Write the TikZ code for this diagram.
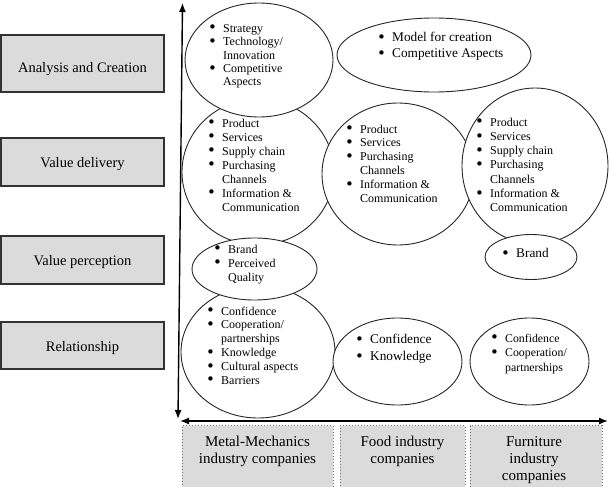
\documentclass[tikz,border=0pt]{standalone}
\usepackage{fontspec}
\setmainfont{Liberation Serif}
\newfontfamily\bulfont{DejaVu Sans}
\usetikzlibrary{shapes.geometric,arrows.meta}
\newcommand{\bi}{\makebox[15pt][l]{\raisebox{-0.9pt}{\bulfont\fontsize{15}{15}\selectfont •}}}
\newcommand{\ind}{\hspace*{15pt}}
\definecolor{boxgray}{RGB}{219,219,219}
\definecolor{boxline}{RGB}{50,50,50}
\definecolor{dotline}{RGB}{110,110,110}
\begin{document}
\begin{tikzpicture}[x=1pt,y=-1pt,
  oval/.style={ellipse, draw=black!85, line width=0.9pt, fill=white, inner sep=0pt},
  smalllist/.style={anchor=base west, inner sep=0pt, align=left},
  levelbox/.style={draw=boxline, line width=1.2pt, fill=boxgray, minimum width=163pt, inner sep=0pt},
  levellabel/.style={anchor=base, inner sep=0pt, font=\fontsize{14.5}{17}\selectfont},
  companybox/.style={draw=dotline, dotted, line width=1pt, fill=boxgray, anchor=north, minimum height=66pt, inner sep=0pt},
  companylabel/.style={anchor=base, inner sep=0pt, align=center, font=\fontsize{15}{17}\selectfont},
  axis/.style={line width=1.4pt, {Latex[length=9pt,width=7pt]}-{Latex[length=9pt,width=7pt]}}
]
\useasboundingbox (0,0) rectangle (611,487);

% level boxes
\node[levelbox, minimum height=57pt] (lac) at (82.5,63.5) {};
\node[levelbox, minimum height=48pt] (lvd) at (82.5,162) {};
\node[levelbox, minimum height=48pt] (lvp) at (82.5,260) {};
\node[levelbox, minimum height=47pt] (lrl) at (82.5,345.5) {};
\node[levellabel] (tac) at (82.5,73) {Analysis and Creation};
\node[levellabel] (tvd) at (82.5,167.5) {Value delivery};
\node[levellabel] (tvp) at (82.5,265.5) {Value perception};
\node[levellabel] (trl) at (82.5,351) {Relationship};

% ellipses
\node[oval, minimum width=152pt, minimum height=146pt] (e3) at (258,172) {};
\node[oval, minimum width=152pt, minimum height=142pt] (e4) at (398,174) {};
\node[oval, minimum width=146pt, minimum height=156pt] (e5) at (535,166) {};
\node[oval, minimum width=148pt, minimum height=114pt] (e1) at (259,60) {};
\node[oval, minimum width=194pt, minimum height=74pt] (e2) at (434,55) {};
\node[oval, minimum width=154pt, minimum height=132pt] (e8) at (258,352) {};
\node[oval, minimum width=125pt, minimum height=62pt] (e7) at (254.5,269) {};
\node[oval, minimum width=92pt, minimum height=45pt] (e6) at (531,257) {};
\node[oval, minimum width=129pt, minimum height=87pt] (e9) at (397.5,361.5) {};
\node[oval, minimum width=119pt, minimum height=87pt] (e10) at (529.5,361.5) {};

% lists (anchored at the baseline of their last line)
\node[smalllist, font=\fontsize{12}{13.5}\selectfont] (t1) at (208,86)
  {\bi Strategy\\\bi Technology/\\\ind Innovation\\\bi Competitive\\\ind Aspects};
\node[smalllist, font=\fontsize{13.3}{16}\selectfont] (t2) at (377,57.5)
  {\bi Model for creation\\\bi Competitive Aspects};
\node[smalllist, font=\fontsize{12}{14}\selectfont] (t3) at (207,211)
  {\bi Product\\\bi Services\\\bi Supply chain\\\bi Purchasing\\\ind Channels\\\bi Information \&\\\ind Communication};
\node[smalllist, font=\fontsize{12}{13.8}\selectfont] (t4) at (345,202)
  {\bi Product\\\bi Services\\\bi Purchasing\\\ind Channels\\\bi Information \&\\\ind Communication};
\node[smalllist, font=\fontsize{12}{14.3}\selectfont] (t5) at (475,211.8)
  {\bi Product\\\bi Services\\\bi Supply chain\\\bi Purchasing\\\ind Channels\\\bi Information \&\\\ind Communication};
\node[smalllist, font=\fontsize{13.3}{16}\selectfont] (t6) at (501,257.5)
  {\bi Brand};
\node[smalllist, font=\fontsize{12}{14}\selectfont] (t7) at (213,281)
  {\bi Brand\\\bi Perceived\\\ind Quality};
\node[smalllist, font=\fontsize{12}{13.8}\selectfont] (t8) at (206,384)
  {\bi Confidence\\\bi Cooperation/\\\ind partnerships\\\bi Knowledge\\\bi Cultural aspects\\\bi Barriers};
\node[smalllist, font=\fontsize{13.3}{17}\selectfont] (t9) at (355,360.5)
  {\bi Confidence\\\bi Knowledge};
\node[smalllist, font=\fontsize{11.8}{14.5}\selectfont] (t10) at (490,371)
  {\bi Confidence\\\bi Cooperation/\\\ind partnerships};

% company boxes
\node[companybox, minimum width=151pt] (c1) at (257.5,425) {};
\node[companybox, minimum width=125pt] (c2) at (402.5,425) {};
\node[companybox, minimum width=132pt] (c3) at (536,425) {};
\node[companylabel] (tc1) at (257.5,463) {Metal-Mechanics\\industry companies};
\node[companylabel] (tc2) at (402.5,463) {Food industry\\companies};
\node[companylabel] (tc3) at (534,480) {Furniture\\industry\\companies};

% axes
\coordinate (vtop) at (182.5,3);
\coordinate (vbot) at (178,419);
\coordinate (hl) at (180,421);
\coordinate (hr) at (608,421);
\draw[axis] (vbot) -- (vtop);
\draw[axis] (hl) -- (hr);
\end{tikzpicture}
\end{document}
